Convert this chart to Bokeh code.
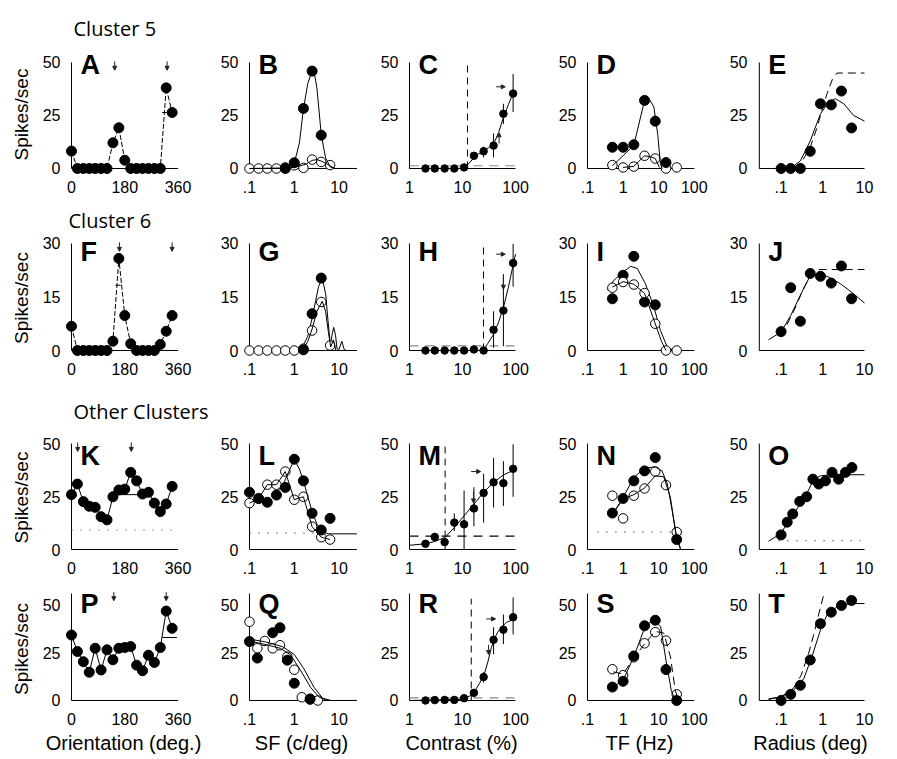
from bokeh.plotting import figure
from bokeh.layouts import column, row
from bokeh.models import (Range1d, FixedTicker, CustomJSTickFormatter, Title,
                          Arrow, NormalHead)
from bokeh.core.properties import value
from bokeh.embed import file_html
from bokeh.resources import INLINE

# ---------------------------------------------------------------- data
ORIENT = [0, 20, 40, 60, 80, 100, 120, 140, 160, 180, 200, 220, 240, 260, 280, 300, 320, 340]
SF10 = [0.1, 0.16, 0.25, 0.4, 0.63, 1.0, 1.6, 2.5, 4.0, 6.3]
SFQ = [0.1, 0.15, 0.22, 0.33, 0.48, 0.7, 1.0, 1.47, 2.26, 3.35]
CON = [2, 3, 4.6, 7, 10.7, 16.4, 25, 38.5, 59, 90]
TF7 = [0.5, 1, 2, 4, 8, 16, 32]
RAD8 = [0.1, 0.17, 0.29, 0.5, 0.88, 1.6, 2.8, 4.9]
RAD12 = [0.1, 0.14, 0.19, 0.28, 0.41, 0.58, 0.8, 1.16, 1.67, 2.4, 3.5, 5.0]

# Cluster 5
A_RESP = [8.2, 0, 0, 0, 0, 0, 0, 12.1, 19.2, 3.9, 0, 0, 0, 0, 0, 0, 38.0, 26.4]
A_BW_X, A_BW_Y = [306, 322], [26.4, 26.4]
A_PREF = [146, 323]

B_OPEN = [0, 0, 0, 0, 0.5, 1.5, 0.3, 4.2, 3.1, 1.6]
B_FILL_SF = [0.63, 1.0, 1.6, 2.5, 4.0]
B_FILL = [0, 2.7, 28.3, 45.9, 15.7]
B_FIT_SF = [0.1, 0.7, 1.0, 1.3, 1.6, 2.0, 2.5, 2.8, 3.2, 4.0, 5.0, 6.3, 8.0, 25]
B_FIT = [0, 0, 2.5, 12, 28, 40, 46, 45, 38, 16, 5, 0.8, 0, 0]
B_OFIT_SF = [0.1, 0.8, 1.2, 1.8, 2.5, 3.2, 4.0, 5.0, 6.3, 8.0, 25]
B_OFIT = [0, 0.3, 1.0, 2.0, 3.8, 4.2, 3.5, 2.5, 1.2, 0, 0]

C_RESP = [0, 0, 0, 0, 0.5, 6.0, 8.1, 10.8, 25.8, 35.3]
C_LO = [0, 0, 0, 0, 0.5, 4.4, 5.2, 5.2, 21.0, 26.6]
C_HI = [0, 0, 0, 0, 0.5, 7.6, 10.3, 16.6, 30.5, 44.5]
C_FIT_C = [1, 9, 11, 13, 16.4, 20, 25, 31, 38.5, 48, 59, 73, 90]
C_FIT = [0, 0, 0.5, 2.2, 5.0, 6.8, 8.4, 9.8, 11.5, 17, 24, 30, 35.5]
C_THRESH, C_BASE = 12.4, 1.3

D_FILL_TF = [0.5, 1, 2, 4, 8, 16]
D_FILL = [10, 10, 11.2, 32.1, 22.3, 2.8]
D_OPEN = [1.6, 0.5, 0.9, 6.0, 4.7, 0, 0.5]
D_FIT_TF = [0.5, 1, 2, 4, 5.3, 7.3, 9.4, 11.2, 12.5]
D_FIT = [1.3, 6, 11, 32, 33, 29, 16, 2, 0]
D_OFIT_TF = [1, 2, 4, 6, 8, 10.5]
D_OFIT = [0.5, 1, 6, 5.5, 4.7, 0.5]

E_RESP = [0, 0, 0, 8.1, 30.5, 30, 36.5, 19.1]
E_FIT_R = [0.15, 0.18, 0.29, 0.5, 0.88, 1.39, 2.0, 3.2, 5.5, 10]
E_FIT = [0, 0.5, 3.6, 13, 25.8, 31.3, 32.9, 30.5, 25, 22.3]
E_DASH_R = [0.2, 0.3, 0.5, 0.75, 1.0, 1.3, 1.7, 2.2, 10]
E_DASH = [0.5, 2.5, 10, 20, 29, 36, 42, 45, 45]

# Cluster 6
F_RESP = [6.8, 0, 0, 0, 0, 0, 0, 2.6, 25.8, 9.8, 1.9, 0, 0, 0, 0, 1.7, 5.4, 9.8]
F_BW_X, F_BW_Y = [149, 166], [18.3, 18.3]
F_PREF = [162, 340]

G_OPEN = [0, 0, 0, 0, 0, 0, 0.5, 5.6, 13.6, 1.4]
G_FILL_SF = [1.6, 2.5, 4.0]
G_FILL = [0.2, 10.3, 20.3]
G_FIT_SF = [0.1, 1.0, 1.5, 2.0, 2.5, 3.0, 3.5, 4.2, 5.0, 5.7, 6.4, 7.0, 7.6, 8.3, 9.0, 10, 11.5, 13, 14.5, 25]
G_FIT = [0, 0, 0.8, 4, 9, 14, 18, 20.3, 16, 8, 1.5, 4.5, 6.5, 4.5, 0.5, 0.3, 2.6, 0.3, 0, 0]
G_OFIT_SF = [1.5, 2.0, 2.5, 3.2, 4.2, 5.0, 5.8, 6.5, 7.5, 8.5, 25]
G_OFIT = [0, 2.5, 6, 11, 13.8, 11, 5, 1, 3, 0, 0]

H_RESP = [0, 0, 0, 0, 0, 0.3, 0, 5.8, 11.2, 24.5]
H_LO = [0, 0, 0, 0, 0, 0.3, 0, 0.8, 1.2, 17.9]
H_HI = [0, 0, 0, 0, 0, 0.3, 0, 11.0, 21.4, 29.9]
H_FIT_C = [1, 20, 25, 30, 38.5, 48, 59, 74, 90, 100]
H_FIT = [0, 0, 0.3, 2, 4.5, 8, 12, 18, 24, 27]
H_THRESH, H_BASE = 24.9, 1.3

I_FILL_TF = [0.5, 1, 2, 4, 8]
I_FILL = [14.5, 21.1, 26.4, 13.6, 12.8]
I_OPEN = [17.6, 19.2, 18.5, 16.1, 7.5, 0, 0]
I_FIT_TF = [0.36, 0.55, 1, 1.63, 2.5, 4.2, 7.3, 11.2, 17.5, 27]
I_FIT = [16.9, 19.7, 22, 23.6, 23, 18.8, 12.2, 5.6, 0.9, 0]
I_OFIT_TF = [0.5, 1, 2, 4, 8, 12, 16]
I_OFIT = [17.8, 19.3, 18.6, 16, 7.5, 2.5, 0]

J_RESP = [5.3, 17.6, 8.2, 21.6, 20.8, 18.9, 23.7, 14.5]
J_FIT_R = [0.05, 0.1, 0.17, 0.29, 0.5, 0.8, 1.39, 2.66, 5.5, 10]
J_FIT = [3, 5.2, 9.8, 15.5, 21, 21.5, 20.6, 18.7, 15.9, 13.3]
J_DASH_R = [0.1, 0.2, 0.35, 0.5, 0.75, 10]
J_DASH = [4, 11, 17.5, 21, 22.7, 22.7]

# Other clusters
K_RESP = [25.9, 30.9, 22.6, 20.4, 19.9, 15.5, 14.0, 24.9, 28.1, 28.5, 36.4, 32.4, 26.2, 27.0, 21.9, 17.9, 21.5, 29.8]
K_BW_X, K_BW_Y = [143, 244], [25.9, 25.9]
K_PREF = [21, 202]
K_SPONT = 9.2

L_FILL = [27, 24.1, 22.3, 25.7, 29.3, 42.6, 32.4, 17.1, 9.2, 14.7]
L_OPEN = [21.9, 24, 30.6, 30.6, 36.8, 23.5, 24.9, 10.8, 5.8, 4.7]
L_FIT_SF = [0.45, 0.6, 0.8, 1.0, 1.3, 1.6, 2.0, 2.5, 3.2, 4.2, 5.8, 25]
L_FIT = [28, 32, 38, 42.5, 38, 32.4, 25, 18, 12, 8.5, 7.4, 7.4]
L_SPONT = 7.7

M_RESP = [2.7, 5.9, 3.5, 12.7, 11.9, 19.4, 26.7, 31.7, 31.3, 38.1]
M_LO = [1.1, 4.3, 3.5, 8.7, 0, 11.0, 12.7, 19.8, 20.6, 24.9]
M_HI = [4.0, 7.9, 3.5, 17.0, 27.8, 29.4, 35.7, 43.3, 41.7, 49.7]
M_FIT_C = [1, 2, 3, 4.6, 7, 10.7, 16.4, 25, 38.5, 59, 90]
M_FIT = [2, 2.7, 3.8, 5.6, 10.3, 15.9, 21.4, 27, 31.7, 35.2, 37.3]
M_THRESH, M_BASE = 4.7, 6.3

N_FILL_TF = [0.5, 1, 2, 4, 8, 32]
N_FILL = [17.2, 24.1, 32.4, 37.1, 43.4, 4.7]
N_OPEN = [25.4, 14.7, 25.4, 28.8, 36.8, 30.4, 8.2]
N_FIT_TF = [0.45, 1, 2, 4, 8, 12.4, 17.5, 24, 32, 41]
N_FIT = [15.2, 24.6, 34, 38.4, 39, 37.1, 30.9, 18.3, 5.8, 0.3]
N_OFIT_TF = [0.5, 1, 2, 4, 8, 13.9, 21.3, 29.2, 41]
N_OFIT = [16.8, 23.8, 25.9, 29, 34.8, 34.3, 24.6, 8.9, 0]
N_SPONT = 8.2

O_RESP = [6.9, 12.9, 16.8, 22.7, 24.9, 33.2, 30.9, 32.4, 36.4, 33.2, 36.4, 38.7]
O_FIT_R = [0.05, 0.096, 0.19, 0.41, 0.58, 0.88, 1.67, 10]
O_FIT = [3.9, 7.4, 16, 26.2, 32.4, 34.8, 35.3, 35.3]
O_SPONT = 4.2

P_RESP = [34.1, 25.5, 20.2, 14.7, 27.2, 15.9, 26.4, 21.2, 27.2, 27.6, 28.1, 18.4, 15.5, 23.6, 19.8, 27.6, 46.6, 37.6]
P_BW_X, P_BW_Y = [306, 356], [32.8, 32.8]
P_PREF = [143, 320]

Q_FILL_SF = [0.1, 0.15, 0.33, 0.48, 0.7, 1.0, 2.26]
Q_FILL = [30.7, 22.1, 35.3, 37.9, 21, 9, 0.8]
Q_OPEN = [41, 27.2, 31, 27.2, 28.8, 22.8, 16, 1.7, 0.5, 0]
Q_FIT_SF = [0.1, 0.21, 0.49, 0.82, 1.4, 2.3, 3.6, 5.5, 25]
Q_FIT = [31, 29.3, 27.2, 23.8, 15.5, 6.9, 1.7, 0, 0]
Q_OFIT_SF = [0.1, 0.23, 0.55, 1.0, 1.65, 2.75, 4.3, 6.6, 25]
Q_OFIT = [32, 30.5, 28, 24, 16.4, 6.9, 1.2, 0, 0]

R_RESP = [0, 0.2, 0.3, 0.3, 1.2, 4.0, 12.2, 31.6, 36.9, 43.4]
R_LO = [0, 0.2, 0.3, 0.3, 1.2, 4.0, 9.3, 24.1, 29.4, 34.4]
R_HI = [0, 0.2, 0.3, 0.3, 1.2, 4.0, 14.7, 38.1, 44.8, 53.7]
R_FIT_C = [1, 10, 11, 14, 17, 21, 25.6, 30, 35, 42, 48, 58, 68, 100]
R_FIT = [0, 0.5, 1, 2.5, 4.9, 9, 13.6, 20, 27.6, 33.5, 36.4, 39, 40.7, 42.8]
R_THRESH, R_BASE = 14.6, 1.4

S_FILL = [7, 10, 23.2, 38.9, 41.8, 16.1, 0]
S_OPEN = [16.3, 13.2, 22.5, 29.8, 35.6, 31.2, 3.2]
S_FIT_TF = [0.5, 1, 2, 4, 7, 11.3, 16, 22.5, 29]
S_FIT = [6.7, 10.5, 22.8, 37.7, 42.5, 38.6, 21, 5.3, 0]
S_DASH_TF = [0.53, 1, 2, 4, 8, 13.9, 21.3, 29.2, 36]
S_DASH = [14.9, 13.8, 22, 29.5, 36, 35.1, 22.8, 5.3, 0]

T_RESP = [0, 3.2, 7.9, 21.1, 40, 46, 49.5, 52.1]
T_FIT_R = [0.05, 0.1, 0.2, 0.35, 0.55, 0.88, 1.27, 2.2, 4.6, 10]
T_FIT = [0.9, 1.8, 5.3, 11.4, 22.8, 36.8, 44.7, 48.8, 50.5, 50.5]
T_DASH_R = [0.05, 0.1, 0.2, 0.3, 0.45, 0.6, 0.8, 1.05]
T_DASH = [0.5, 2, 6.5, 13, 24, 34, 45, 55]

X_TITLES = ["Orientation (deg.)", "SF (c/deg)", "Contrast (%)", "TF (Hz)", "Radius (deg)"]
ROW_TITLES = ["Cluster 5", "Cluster 6", "Other Clusters", None]

# ---------------------------------------------------------------- layout
FONT = "Liberation Sans"
HEAD_FONT = "Open Sans"

COLS = [
    dict(w=212, left=64, right=30, kind="linear", rng=(-23.6, 375), bounds=(0, 360), ticks=[0, 180, 360], title_off=16),
    dict(w=160, left=30, right=12, kind="log", rng=(0.0698, 30.1), bounds=(0.1, 25), ticks=[0.1, 1, 10], title_off=5),
    dict(w=178, left=30, right=30, kind="log", rng=(0.738, 124), bounds=(1, 100), ticks=[1, 10, 100], title_off=14),
    dict(w=171, left=30, right=23, kind="log", rng=(0.0636, 131), bounds=(0.1, 100), ticks=[0.1, 1, 10, 100], title_off=6),
    dict(w=175, left=30, right=27, kind="log", rng=(0.0195, 13.2), bounds=(0.03, 10), ticks=[0.1, 1, 10], title_off=18),
]
# head_stand: standoff of the row heading above the plot area (fits within `top`)
ROWS = [
    dict(h=198, top=53, bottom=23, rng=(-3.3, 54.2), bounds=(0, 50), ticks=[0, 25, 50], ly=50, ldy=3, head_off=9, head_stand=23, ylab_off=0),
    dict(h=182, top=40, bottom=23, rng=(-1.96, 31.4), bounds=(0, 30), ticks=[0, 15, 30], ly=30, ldy=9, head_off=4, head_stand=10, ylab_off=0),
    dict(h=199, top=58, bottom=23, rng=(-3.3, 52.4), bounds=(0, 50), ticks=[0, 25, 50], ly=50, ldy=12, head_off=9, head_stand=27, ylab_off=0),
    dict(h=180, top=11, bottom=52, rng=(-3.65, 57.3), bounds=(0, 55.7), ticks=[0, 25, 50], ly=50, ldy=-1, head_off=0, head_stand=0, ylab_off=6),
]

LOG_FMT = "return tick < 1 ? tick.toString().replace(/^0/, '') : tick.toString();"


def make_panel(ci, ri, letter):
    cs, rs = COLS[ci], ROWS[ri]
    p = figure(width=cs["w"], height=rs["h"], x_axis_type=cs["kind"],
               x_range=Range1d(*cs["rng"]), y_range=Range1d(*rs["rng"]),
               output_backend="svg", toolbar_location=None,
               min_border_left=cs["left"], min_border_right=cs["right"],
               min_border_top=rs["top"], min_border_bottom=rs["bottom"])
    p.outline_line_color = None
    p.xgrid.visible = False
    p.ygrid.visible = False
    xa, ya = p.xaxis[0], p.yaxis[0]
    xa.ticker = FixedTicker(ticks=cs["ticks"])
    ya.ticker = FixedTicker(ticks=rs["ticks"])
    if cs["kind"] == "log":
        xa.formatter = CustomJSTickFormatter(code=LOG_FMT)
    # the axis objects only carry the tick labels; the rules are drawn below
    for ax in (xa, ya):
        ax.axis_line_color = None
        ax.major_tick_line_color = None
        ax.minor_tick_line_color = None
        ax.major_tick_in = 0
        ax.major_tick_out = 0
        ax.minor_tick_in = 0
        ax.minor_tick_out = 0
        ax.major_label_text_font = FONT
        ax.major_label_text_font_size = "16px"
        ax.major_label_text_color = "black"
    xa.major_label_standoff = 5
    ya.major_label_standoff = 4
    # axis rules, bounded like the original axes
    x0, x1 = cs["bounds"]
    y0, y1 = rs["bounds"]
    p.segment(x0=[x0, x0], y0=[0, y0], x1=[x1, x0], y1=[0, y1],
              line_color="black", line_width=1)
    # panel letter
    p.text(x=[x0], y=[rs["ly"]], text=[letter], text_font=value(FONT),
           text_font_style="bold", text_font_size="27px", text_color="black",
           x_offset=9, y_offset=rs["ldy"], text_baseline="alphabetic", text_align="left")
    if ci == 0:
        p.add_layout(Title(text="Spikes/sec", align="center", offset=rs["ylab_off"], standoff=15,
                           text_font=FONT, text_font_size="19px", text_font_style="normal",
                           text_color="black"), "left")
        if ROW_TITLES[ri]:
            p.add_layout(Title(text=ROW_TITLES[ri], align="left", offset=rs["head_off"],
                               standoff=rs["head_stand"], text_font=HEAD_FONT,
                               text_font_size="20px", text_font_style="normal",
                               text_color="black"), "above")
    if ri == 3:
        p.add_layout(Title(text=X_TITLES[ci], align="center", offset=cs["title_off"], standoff=4.5,
                           text_font=FONT, text_font_size="20px", text_font_style="normal",
                           text_color="black"), "below")
    return p


def open_dots(p, x, y, size=9.5):
    p.scatter(x, y, marker="circle", size=size, fill_color="white", line_color="black", line_width=1)


def fill_dots(p, x, y, size=10):
    p.scatter(x, y, marker="circle", size=size, fill_color="black", line_color="black", line_width=1)


def curve(p, x, y, dash="solid", color="black", width=1):
    p.line(x, y, line_color=color, line_width=width, line_dash=dash)


def errbars(p, x, lo, hi):
    p.segment(x0=x, y0=lo, x1=x, y1=hi, line_color="black", line_width=1)


def arrow(p, x0, y0, x1, y1):
    p.add_layout(Arrow(end=NormalHead(size=4, fill_color="#222", line_color="#222", line_width=1),
                       x_start=x0, y_start=y0, x_end=x1, y_end=y1,
                       line_color="#222", line_width=1))


def pref_arrows(p, xs, top, bottom):
    for x in xs:
        arrow(p, x, top, x, bottom)


def contrast_marks(p, thresh, base, top, base_color):
    p.line([thresh, thresh], [0, top], line_color="black", line_width=1, line_dash="7 5")
    p.line([1, 100], [base, base], line_color=base_color, line_width=1.2, line_dash="9 7")


def spont(p, x0, x1, level):
    p.line([x0, x1], [level, level], line_color="#333", line_width=1.2, line_dash="1 8")


# ---------------------------------------------------------------- row 1
pA = make_panel(0, 0, "A")
curve(pA, ORIENT, A_RESP, dash="5 2")
curve(pA, A_BW_X, A_BW_Y)
fill_dots(pA, ORIENT, A_RESP)
pref_arrows(pA, A_PREF, 50.5, 46.3)

pB = make_panel(1, 0, "B")
open_dots(pB, SF10, B_OPEN)
curve(pB, B_OFIT_SF, B_OFIT)
curve(pB, B_FIT_SF, B_FIT)
fill_dots(pB, B_FILL_SF, B_FILL)

pC = make_panel(2, 0, "C")
contrast_marks(pC, C_THRESH, C_BASE, 50, "#888888")
errbars(pC, CON, C_LO, C_HI)
curve(pC, C_FIT_C, C_FIT)
fill_dots(pC, CON, C_RESP, size=7.5)
arrow(pC, 43, 38.5, 64, 38.5)
arrow(pC, 49, 11.8, 49, 16.8)

pD = make_panel(3, 0, "D")
open_dots(pD, TF7, D_OPEN)
curve(pD, D_OFIT_TF, D_OFIT)
curve(pD, D_FIT_TF, D_FIT)
fill_dots(pD, D_FILL_TF, D_FILL)

pE = make_panel(4, 0, "E")
curve(pE, E_DASH_R, E_DASH, dash="8 5")
curve(pE, E_FIT_R, E_FIT)
fill_dots(pE, RAD8, E_RESP)

# ---------------------------------------------------------------- row 2
pF = make_panel(0, 1, "F")
curve(pF, ORIENT, F_RESP, dash="5 2")
curve(pF, F_BW_X, F_BW_Y)
fill_dots(pF, ORIENT, F_RESP)
pref_arrows(pF, F_PREF, 30.3, 27.8)

pG = make_panel(1, 1, "G")
curve(pG, G_FIT_SF, G_FIT)
open_dots(pG, SF10, G_OPEN)
curve(pG, G_OFIT_SF, G_OFIT)
fill_dots(pG, G_FILL_SF, G_FILL)

pH = make_panel(2, 1, "H")
contrast_marks(pH, H_THRESH, H_BASE, 30, "#888888")
errbars(pH, CON, H_LO, H_HI)
curve(pH, H_FIT_C, H_FIT)
fill_dots(pH, CON, H_RESP, size=7.5)
arrow(pH, 43, 27, 64, 27)
arrow(pH, 59, 20.5, 59, 17.2)

pI = make_panel(3, 1, "I")
curve(pI, I_FIT_TF, I_FIT)
fill_dots(pI, I_FILL_TF, I_FILL)
open_dots(pI, TF7, I_OPEN)
curve(pI, I_OFIT_TF, I_OFIT)

pJ = make_panel(4, 1, "J")
curve(pJ, J_DASH_R, J_DASH, dash="8 5")
curve(pJ, J_FIT_R, J_FIT)
fill_dots(pJ, RAD8, J_RESP)

# ---------------------------------------------------------------- row 3
pK = make_panel(0, 2, "K")
spont(pK, 0, 345, K_SPONT)
curve(pK, ORIENT, K_RESP)
curve(pK, K_BW_X, K_BW_Y)
fill_dots(pK, ORIENT, K_RESP)
pref_arrows(pK, K_PREF, 50.5, 46.3)

pL = make_panel(1, 2, "L")
spont(pL, 0.1, 2.7, L_SPONT)
open_dots(pL, SF10, L_OPEN)
curve(pL, SF10, L_OPEN)
curve(pL, L_FIT_SF, L_FIT)
fill_dots(pL, SF10, L_FILL)

pM = make_panel(2, 2, "M")
contrast_marks(pM, M_THRESH, M_BASE, 50, "black")
errbars(pM, CON, M_LO, M_HI)
curve(pM, M_FIT_C, M_FIT)
fill_dots(pM, CON, M_RESP, size=7.5)
arrow(pM, 14.5, 36.8, 22, 36.8)
arrow(pM, 16.1, 27.5, 16.1, 22)

pN = make_panel(3, 2, "N")
spont(pN, 0.19, 41, N_SPONT)
open_dots(pN, TF7, N_OPEN)
curve(pN, N_OFIT_TF, N_OFIT)
curve(pN, N_FIT_TF, N_FIT)
fill_dots(pN, N_FILL_TF, N_FILL)

pO = make_panel(4, 2, "O")
spont(pO, 0.087, 8.0, O_SPONT)
curve(pO, O_FIT_R, O_FIT)
fill_dots(pO, RAD12, O_RESP)

# ---------------------------------------------------------------- row 4
pP = make_panel(0, 3, "P")
curve(pP, ORIENT, P_RESP)
curve(pP, P_BW_X, P_BW_Y)
fill_dots(pP, ORIENT, P_RESP)
pref_arrows(pP, P_PREF, 56.5, 52.0)

pQ = make_panel(1, 3, "Q")
open_dots(pQ, SFQ, Q_OPEN)
curve(pQ, Q_OFIT_SF, Q_OFIT)
curve(pQ, Q_FIT_SF, Q_FIT)
fill_dots(pQ, Q_FILL_SF, Q_FILL)

pR = make_panel(2, 3, "R")
contrast_marks(pR, R_THRESH, R_BASE, 53, "#888888")
errbars(pR, CON, R_LO, R_HI)
curve(pR, R_FIT_C, R_FIT)
fill_dots(pR, CON, R_RESP, size=7.5)
arrow(pR, 28, 42.5, 42, 42.5)
arrow(pR, 31, 29, 31, 24)

pS = make_panel(3, 3, "S")
open_dots(pS, TF7, S_OPEN)
curve(pS, S_DASH_TF, S_DASH, dash="8 5")
curve(pS, S_FIT_TF, S_FIT)
fill_dots(pS, TF7, S_FILL)

pT = make_panel(4, 3, "T")
curve(pT, T_DASH_R, T_DASH, dash="8 5")
curve(pT, T_FIT_R, T_FIT)
fill_dots(pT, RAD8, T_RESP)

layout = column(
    row(pA, pB, pC, pD, pE),
    row(pF, pG, pH, pI, pJ),
    row(pK, pL, pM, pN, pO),
    row(pP, pQ, pR, pS, pT),
)

open("out.html", "w").write(file_html(layout, INLINE, title="Tuning curves"))
